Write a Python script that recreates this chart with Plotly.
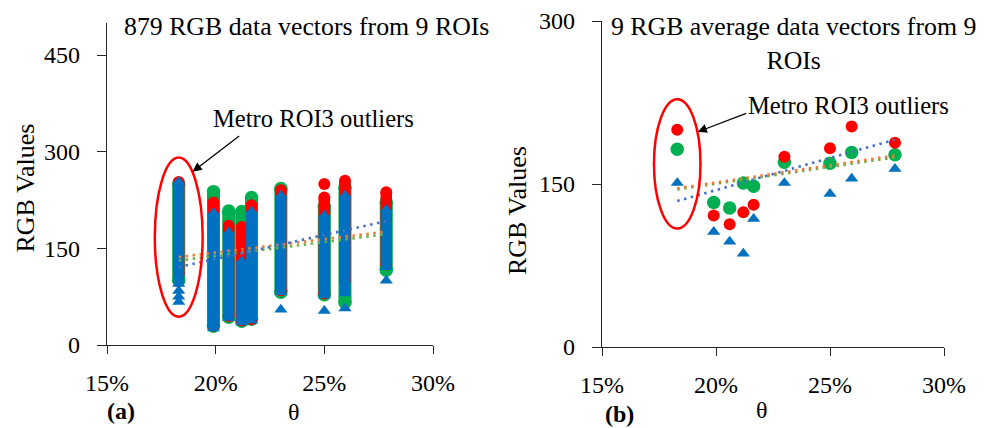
import numpy as np
import plotly.graph_objects as go

# ---------------- data ----------------
theta = [0.183, 0.199, 0.206, 0.212, 0.2165, 0.230, 0.250, 0.2595, 0.2785]

# panel (a): spread (min..max) of the 879 RGB vectors inside each ROI
r_min = [110, 30, 45, 38, 40, 85, 80, 100, 125]
r_max = [253, 221, 185, 183, 217, 240, 229, 255, 237]
g_min = [100, 29, 43, 37, 40, 82, 78, 66, 116]
g_max = [250, 238, 208, 207, 229, 243, 215, 245, 222]
b_min = [95, 26, 42, 35, 38, 82, 77, 80, 121]
b_max = [253, 205, 175, 130, 207, 232, 201, 232, 210]
# isolated vectors below / above the dense columns
r_out_x = [0.250]
r_out_y = [250]
b_out_x = [0.183, 0.183, 0.183, 0.230, 0.250, 0.2595, 0.2785]
b_out_y = [84, 75, 67, 55, 53, 57, 100]
# trend lines of panel (a) evaluated at first / last theta
trend_a_r = [121, 192]
trend_a_g = [136.5, 176]
trend_a_b = [131, 172]

# panel (b): average RGB vector of each ROI
r_avg = [200, 121, 113, 124, 131, 175, 183, 203, 188]
g_avg = [182, 133, 128, 151, 148, 170, 169, 179, 177]
b_avg = [151, 106, 97, 86, 118, 151, 141, 155, 164]
trend_b_third = [145, 174.5]

RED = "#FF0000"
GREEN = "#00B050"
BLUE = "#0070C0"
T_BLUE = "#4472C4"
T_ORANGE = "#ED7D31"
T_GREEN = "#70AD47"
FONT = "Liberation Serif, Tinos, Times New Roman, DejaVu Serif, serif"
AX = "#262626"

fig = go.Figure()


def column_trace(xs, lo, hi, color, width, xa, ya):
    X, Y = [], []
    for x, a, b in zip(xs, lo, hi):
        X += [x, x, None]
        Y += [a, b, None]
    return go.Scatter(x=X, y=Y, mode="lines", line=dict(color=color, width=width),
                      xaxis=xa, yaxis=ya, hoverinfo="skip", showlegend=False)


def end_markers(xs, lo, hi, color, size, symbol, xa, ya):
    return go.Scatter(x=list(xs) + list(xs), y=list(lo) + list(hi), mode="markers",
                      marker=dict(color=color, size=size, symbol=symbol, line=dict(width=0)),
                      xaxis=xa, yaxis=ya, showlegend=False)


TRI = 11.5
# ---------- panel (a) ----------
fig.add_trace(column_trace(theta, g_min, g_max, GREEN, 13, "x", "y"))
fig.add_trace(end_markers(theta, g_min, g_max, GREEN, 13.5, "circle", "x", "y"))
fig.add_trace(column_trace(theta, r_min, r_max, RED, 11.5, "x", "y"))
fig.add_trace(end_markers(theta, r_min, r_max, RED, 12, "circle", "x", "y"))
fig.add_trace(go.Scatter(x=r_out_x, y=r_out_y, mode="markers",
                         marker=dict(color=RED, size=12, line=dict(width=0)),
                         xaxis="x", yaxis="y", showlegend=False))
fig.add_trace(column_trace(theta, b_min, b_max, BLUE, 11, "x", "y"))
fig.add_trace(end_markers(theta, b_min, b_max, BLUE, TRI, "triangle-up", "x", "y"))
fig.add_trace(go.Scatter(x=b_out_x, y=b_out_y, mode="markers",
                         marker=dict(color=BLUE, size=TRI, symbol="triangle-up", line=dict(width=0)),
                         xaxis="x", yaxis="y", showlegend=False))

tx = [theta[0], theta[-1]]
DASH = "2.5px,4.5px"
LW = 2.6
for vals, col in [(trend_a_b, T_GREEN), (trend_a_g, T_ORANGE), (trend_a_r, T_BLUE)]:
    fig.add_trace(go.Scatter(x=tx, y=vals, mode="lines", line=dict(color=col, width=LW, dash=DASH),
                             xaxis="x", yaxis="y", showlegend=False))

# ---------- panel (b) ----------
fig.add_trace(go.Scatter(x=theta, y=g_avg, mode="markers",
                         marker=dict(color=GREEN, size=13.5, line=dict(width=0)),
                         xaxis="x2", yaxis="y2", showlegend=False))
fig.add_trace(go.Scatter(x=theta, y=r_avg, mode="markers",
                         marker=dict(color=RED, size=12, line=dict(width=0)),
                         xaxis="x2", yaxis="y2", showlegend=False))
fig.add_trace(go.Scatter(x=theta, y=b_avg, mode="markers",
                         marker=dict(color=BLUE, size=TRI, symbol="triangle-up", line=dict(width=0)),
                         xaxis="x2", yaxis="y2", showlegend=False))

tx_arr = np.array(tx)
fit_r = np.polyfit(theta, r_avg, 1)
fit_g = np.polyfit(theta, g_avg, 1)
fig.add_trace(go.Scatter(x=tx, y=trend_b_third, mode="lines",
                         line=dict(color=T_GREEN, width=LW, dash=DASH),
                         xaxis="x2", yaxis="y2", showlegend=False))
fig.add_trace(go.Scatter(x=tx, y=np.polyval(fit_g, tx_arr), mode="lines",
                         line=dict(color=T_ORANGE, width=LW, dash=DASH),
                         xaxis="x2", yaxis="y2", showlegend=False))
fig.add_trace(go.Scatter(x=tx, y=np.polyval(fit_r, tx_arr), mode="lines",
                         line=dict(color=T_BLUE, width=LW, dash=DASH),
                         xaxis="x2", yaxis="y2", showlegend=False))

# ---------- ellipses ----------
fig.add_shape(type="circle", xref="x", yref="y", x0=theta[0] - 0.011, x1=theta[0] + 0.011,
              y0=44, y1=291, line=dict(color=RED, width=2.5))
fig.add_shape(type="circle", xref="x2", yref="y2", x0=theta[0] - 0.0102, x1=theta[0] + 0.0102,
              y0=109, y1=228, line=dict(color=RED, width=2.5))

f = dict(family=FONT, size=24, color="black")
f_ann = dict(family=FONT, size=24.6, color="black")
f_title = dict(family=FONT, size=25.8, color="black")
f_ytitle = dict(family=FONT, size=26, color="black")
ann = []
ann.append(dict(x=0.1894, y=269, ax=0.2115, ay=326, xref="x", yref="y", axref="x", ayref="y",
                text="", showarrow=True, arrowhead=2, arrowsize=1.4, arrowwidth=1.3, arrowcolor="black"))
ann.append(dict(x=0.2452, y=352, xref="x", yref="y", text="Metro ROI3 outliers",
                showarrow=False, font=f_ann))
ann.append(dict(x=0.192, y=198, ax=0.2139, ay=215.6, xref="x2", yref="y2", axref="x2", ayref="y2",
                text="", showarrow=True, arrowhead=2, arrowsize=1.4, arrowwidth=1.3, arrowcolor="black"))
ann.append(dict(x=0.2583, y=222.6, xref="x2", yref="y2", text="Metro ROI3 outliers",
                showarrow=False, font=f_ann))

W, H = 988, 428


def px(x, y):
    return x / W, 1 - y / H


for text, (x, y), font, extra in [
    ("879 RGB data vectors from 9 ROIs", (306, 27), f_title, {}),
    ("9 RGB average data vectors from 9<br>ROIs", (793.5, 43.5), f_title, {}),
    ("RGB Values", (25, 188.5), f_ytitle, dict(textangle=-90)),
    ("RGB Values", (517.5, 210.5), f_ytitle, dict(textangle=-90)),
    ("θ", (293.5, 412), f, {}),
    ("θ", (761.5, 410), f, {}),
    ("<b>(a)</b>", (120.7, 410.5), f, {}),
    ("<b>(b)</b>", (619, 414), f, {}),
]:
    xp, yp = px(x, y)
    ann.append(dict(x=xp, y=yp, xref="paper", yref="paper", text=text, showarrow=False,
                    xanchor="center", yanchor="middle", font=font, **extra))

xax = dict(range=[0.15, 0.30], dtick=0.05, tick0=0.15, tickformat=".0%", showgrid=False,
           zeroline=False, showline=True, linecolor=AX, linewidth=1.3, ticks="outside",
           ticklen=8, tickcolor=AX, tickwidth=1.3, tickfont=f, ticklabelstandoff=8,
           automargin=False)
yax = dict(showgrid=False, zeroline=False, showline=True, linecolor=AX, linewidth=1.3,
           ticks="outside", ticklen=9, tickcolor=AX, tickwidth=1.3, tickfont=f,
           ticklabelstandoff=12, tick0=0, dtick=150, automargin=False)

fig.update_layout(
    template="none",
    width=W, height=H, margin=dict(l=0, r=0, t=0, b=0, pad=0),
    font=dict(family=FONT, size=24, color="black"),
    paper_bgcolor="white", plot_bgcolor="white", showlegend=False,
    xaxis=dict(xax, domain=[107 / W, 433 / W], anchor="y"),
    yaxis=dict(yax, domain=[1 - 345 / H, 1 - 22.8 / H], range=[0, 500], anchor="x"),
    xaxis2=dict(xax, domain=[602 / W, 944 / W], anchor="y2"),
    yaxis2=dict(yax, domain=[1 - 347 / H, 1 - 21 / H], range=[0, 300], anchor="x2"),
    annotations=ann,
)

fig.write_html(
    "out.html",
    config={"displayModeBar": False},
    post_script="document.body.style.margin='0';document.body.style.padding='0';"
                "document.body.style.overflow='hidden';",
)
